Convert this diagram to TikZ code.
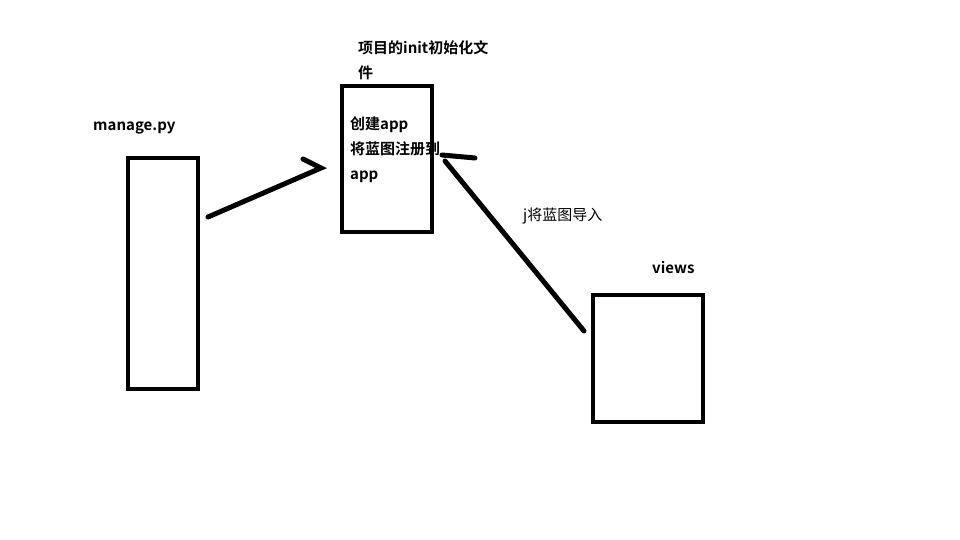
\documentclass[tikz,border=0pt]{standalone}
\usepackage{fontspec}
\newfontfamily\cjk{Noto Sans CJK SC}
\newfontfamily\cjkb{Noto Sans CJK SC Bold}
\begin{document}
\begin{tikzpicture}[x=1pt,y=-1pt,
  boxstyle/.style={draw=black,line width=4.5pt,fill=none},
  stroke/.style={draw=black,line width=5pt,line cap=round},
  lbl/.style={anchor=west,inner sep=0pt,text height=12pt,text depth=3pt,font=\cjkb\fontsize{15}{25}\selectfont},
  lblr/.style={anchor=west,inner sep=0pt,text height=12pt,text depth=3pt,font=\cjk\fontsize{15}{25}\selectfont}]
\useasboundingbox (0,0) rectangle (960,540);
\fill[white] (0,0) rectangle (960,540);
% boxes
\draw[boxstyle] (128,158) rectangle (198,389);
\draw[boxstyle] (342,86) rectangle (432,232);
\draw[boxstyle] (593,295) rectangle (703,422);
\node[inner sep=0pt] (manage) at (163,273.5) {};
\node[inner sep=0pt] (init) at (387,159) {};
\node[inner sep=0pt] (views) at (648,358.5) {};
% labels
\node[lbl] (lmanage) at (93,126) {manage.py};
\node[lbl] (lviews) at (652,269) {views};
\node[lbl] (linit1) at (358,49.5) {项目的init初始化文};
\node[lbl] (linit2) at (358,74.5) {件};
\node[lbl] (lb1) at (350,125.5) {创建app};
\node[lbl] (lb2) at (350,150.5) {将蓝图注册到};
\node[lbl] (lb3) at (350,175) {app};
\node[lblr] (limport) at (523,215.5) {j将蓝图导入};
% connectors
\coordinate (a1) at (208,217);
\coordinate (a2) at (321,168);
\coordinate (a3) at (303,159);
\draw[stroke] (a1) -- (a2) -- (a3);
\coordinate (b1) at (584,331);
\coordinate (b2) at (445,161);
\coordinate (c1) at (442,155);
\coordinate (c2) at (475,158);
\draw[stroke] (b1) -- (b2);
\draw[stroke] (c1) -- (c2);
\end{tikzpicture}
\end{document}
